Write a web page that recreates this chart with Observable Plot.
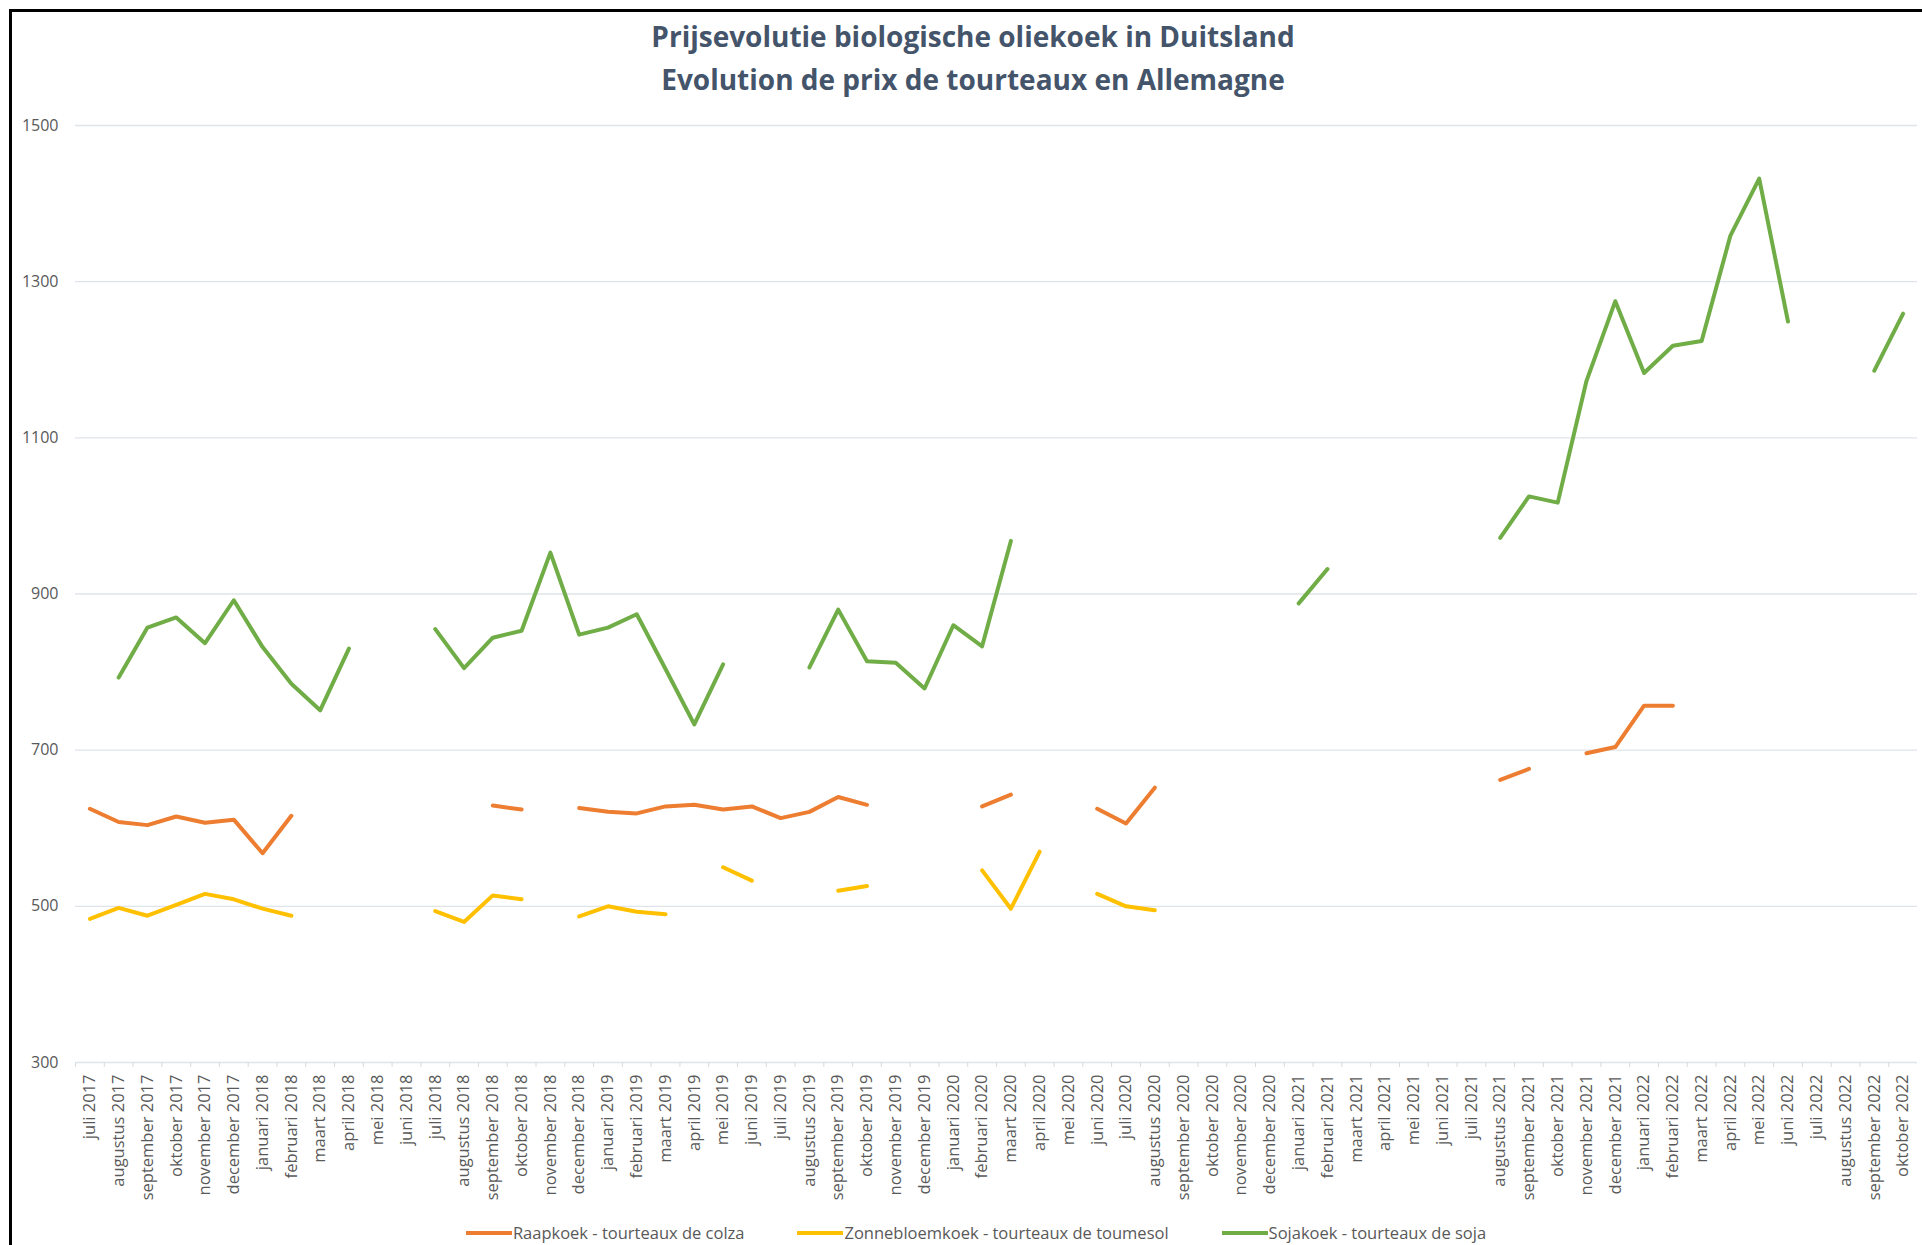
<!DOCTYPE html>
<html>
<head>
<meta charset="utf-8">
<script src="https://cdn.jsdelivr.net/npm/d3@7"></script>
<script src="https://cdn.jsdelivr.net/npm/@observablehq/plot@0.6"></script>
<style>
  html, body { margin: 0; padding: 0; background: #fff; }
  #page { position: relative; width: 1922px; height: 1245px; overflow: hidden; font-family: "Open Sans", "Noto Sans", sans-serif; }
  #frame { position: absolute; left: 9px; top: 9px; width: 1930px; height: 1260px; border-left: 3px solid #000; border-top: 3px solid #000; }
  .title { position: absolute; left: 0; width: 1946px; text-align: center; color: #44546A; font-weight: 700; font-size: 28px; letter-spacing: 0; line-height: 1; }
  #chart { position: absolute; left: 0; top: 100px; }
  #legend { position: absolute; left: 0; width: 1952px; top: 1221px; display: flex; justify-content: center; gap: 53px; color: #595959; font-size: 16.5px; }
  .item { display: flex; align-items: center; }
  .sw { width: 46px; height: 4px; margin-right: 1px; }
</style>
</head>
<body>
<div id="page">
  <div id="frame"></div>
  <div class="title" style="top:22px">Prijsevolutie biologische oliekoek in Duitsland</div>
  <div class="title" style="top:65px">Evolution de prix de tourteaux en Allemagne</div>
  <div id="chart"></div>
  <div id="legend"></div>
</div>
<script>
const months = [
  "juli 2017","augustus 2017","september 2017","oktober 2017","november 2017","december 2017",
  "januari 2018","februari 2018","maart 2018","april 2018","mei 2018","juni 2018",
  "juli 2018","augustus 2018","september 2018","oktober 2018","november 2018","december 2018",
  "januari 2019","februari 2019","maart 2019","april 2019","mei 2019","juni 2019",
  "juli 2019","augustus 2019","september 2019","oktober 2019","november 2019","december 2019",
  "januari 2020","februari 2020","maart 2020","april 2020","mei 2020","juni 2020",
  "juli 2020","augustus 2020","september 2020","oktober 2020","november 2020","december 2020",
  "januari 2021","februari 2021","maart 2021","april 2021","mei 2021","juni 2021",
  "juli 2021","augustus 2021","september 2021","oktober 2021","november 2021","december 2021",
  "januari 2022","februari 2022","maart 2022","april 2022","mei 2022","juni 2022",
  "juli 2022","augustus 2022","september 2022","oktober 2022"
];

const seriesNames = [
  "Raapkoek - tourteaux de colza",
  "Zonnebloemkoek - tourteaux de tournesol",
  "Sojakoek - tourteaux de soja"
];
const legendLabels = [
  "Raapkoek - tourteaux de colza",
  "Zonnebloemkoek - tourteaux de toumesol",
  "Sojakoek - tourteaux de soja"
];
const seriesColors = ["#ED7D31", "#FFC000", "#70AD47"];

const raapkoek = [
  625,608,604,615,607,611,568,616,null,null,null,null,
  null,null,629,624,null,626,621,619,628,630,624,628,
  613,621,640,630,null,null,null,628,643,null,null,625,
  606,652,null,null,null,null,null,null,null,null,null,null,
  null,662,676,null,696,704,757,757,null,null,null,null,
  null,null,null,null
];
const zonnebloemkoek = [
  484,498,488,502,516,509,497,488,null,null,null,null,
  494,480,514,509,null,487,500,493,490,null,550,533,
  null,null,520,526,null,null,null,546,497,570,null,516,
  500,495,null,null,null,null,null,null,null,null,null,null,
  null,null,null,null,null,null,null,null,null,null,null,null,
  null,null,null,null
];
const sojakoek = [
  null,793,857,870,837,892,832,785,751,830,null,null,
  855,805,844,853,953,848,857,874,804,733,810,null,
  null,806,880,814,812,779,860,833,968,null,null,null,
  null,null,null,null,null,null,888,932,null,null,null,null,
  null,972,1025,1017,1173,1275,1183,1218,1224,1359,1432,1249,
  null,null,1186,1259
];

const yTicks = [300, 500, 700, 900, 1100, 1300, 1500];

const seriesValues = [raapkoek, zonnebloemkoek, sojakoek];
const table = [];
seriesNames.forEach((name, s) => {
  months.forEach((m, i) => {
    table.push({series: name, month: m, value: seriesValues[s][i]});
  });
});

const W = 1922, H = 1115, mL = 75, mR = 5;
const step = (W - mL - mR) / months.length;

const chart = Plot.plot({
  width: W,
  height: H,
  marginTop: 25,
  marginBottom: 153,
  marginLeft: mL,
  marginRight: mR,
  style: {fontFamily: '"Open Sans", "Noto Sans", sans-serif', background: "transparent", overflow: "visible"},
  x: {type: "point", domain: months, padding: 0.5},
  y: {domain: [300, 1500]},
  color: {domain: seriesNames, range: seriesColors},
  marks: [
    Plot.gridY(yTicks, {stroke: "#dfe3ea", strokeOpacity: 1, strokeWidth: 1.3}),
    Plot.axisY(yTicks, {tickSize: 0, tickPadding: 17, fontSize: 16, fill: "#595959", label: null, tickFormat: d => String(d)}),
    Plot.axisX({tickSize: 5, tickFormat: () => "", stroke: "#d6dae2", dx: -step / 2, label: null}),
    Plot.axisX({tickSize: 0, tickRotate: -90, tickPadding: 12, fontSize: 16.5, fill: "#595959", label: null}),
    Plot.lineY(table, {x: "month", y: "value", z: "series", stroke: "series", strokeWidth: 4, strokeLinejoin: "round", strokeLinecap: "round"})
  ]
});
document.getElementById("chart").appendChild(chart);

const legend = document.getElementById("legend");
legendLabels.forEach((lab, i) => {
  const it = document.createElement("div");
  it.className = "item";
  const sw = document.createElement("span");
  sw.className = "sw";
  sw.style.background = seriesColors[i];
  const tx = document.createElement("span");
  tx.textContent = lab;
  it.appendChild(sw);
  it.appendChild(tx);
  legend.appendChild(it);
});
</script>
</body>
</html>
